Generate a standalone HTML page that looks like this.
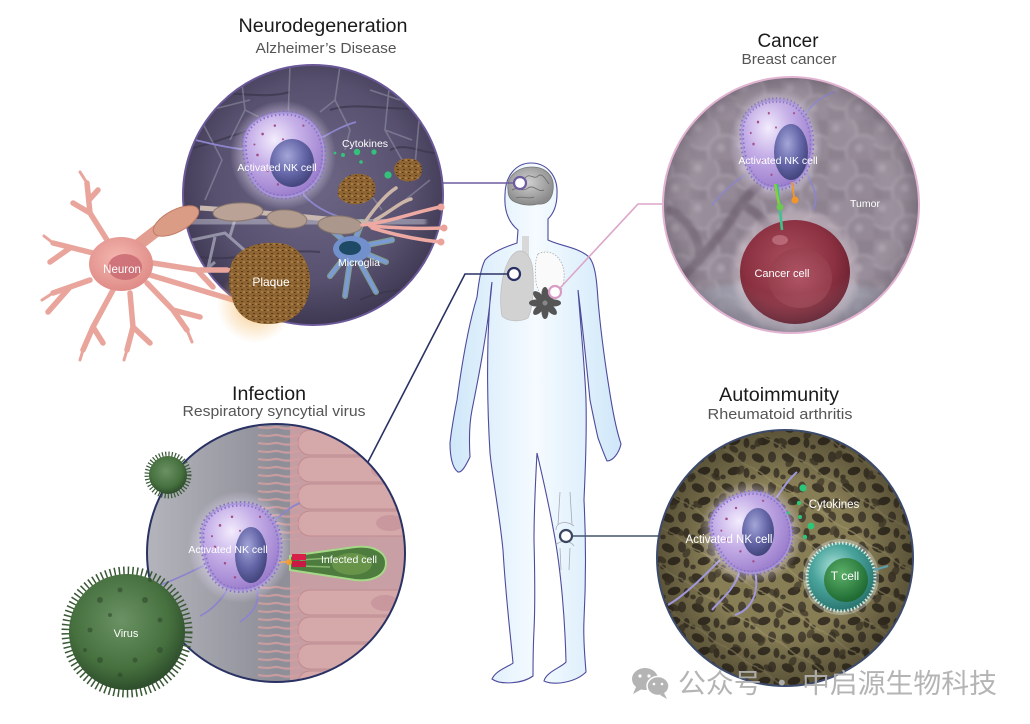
<!DOCTYPE html>
<html><head><meta charset="utf-8"><style>
html,body{margin:0;padding:0;background:#fff;width:1030px;height:724px;overflow:hidden}
svg{display:block}
text{font-family:"Liberation Sans","Noto Sans CJK SC",sans-serif}
</style></head><body>
<svg width="1030" height="724" viewBox="0 0 1030 724" xmlns="http://www.w3.org/2000/svg">
<defs>
<clipPath id="cN"><circle cx="313" cy="195" r="130"/></clipPath>
<clipPath id="cC"><circle cx="791" cy="205" r="128"/></clipPath>
<clipPath id="cI"><circle cx="276" cy="553" r="129"/></clipPath>
<clipPath id="cA"><circle cx="785" cy="558" r="128"/></clipPath>
<filter id="blur1" x="-10%" y="-10%" width="120%" height="120%"><feGaussianBlur stdDeviation="1.6"/></filter>
<filter id="blur2" x="-20%" y="-20%" width="140%" height="140%"><feGaussianBlur stdDeviation="3"/></filter>
<radialGradient id="gN" cx="50%" cy="45%" r="55%"><stop offset="0" stop-color="#6e6886"/><stop offset="0.7" stop-color="#57506e"/><stop offset="1" stop-color="#3e3852"/></radialGradient>
<radialGradient id="gVig" cx="50%" cy="50%" r="50%"><stop offset="0.6" stop-color="#000" stop-opacity="0"/><stop offset="1" stop-color="#1a140c" stop-opacity="0.4"/></radialGradient>
<radialGradient id="gVigC" cx="50%" cy="50%" r="50%"><stop offset="0.7" stop-color="#fff" stop-opacity="0"/><stop offset="1" stop-color="#3a2e3c" stop-opacity="0.25"/></radialGradient>
<linearGradient id="gI" x1="0" y1="0" x2="1" y2="0"><stop offset="0" stop-color="#b4b4bc"/><stop offset="0.5" stop-color="#8e8e98"/><stop offset="1" stop-color="#9a9aa2"/></linearGradient>
<radialGradient id="nkglow" cx="50%" cy="50%" r="50%"><stop offset="0.65" stop-color="#efe4ff" stop-opacity="0.6"/><stop offset="1" stop-color="#efe4ff" stop-opacity="0"/></radialGradient>
<radialGradient id="nkfill" cx="38%" cy="32%" r="70%"><stop offset="0" stop-color="#f3ecfd"/><stop offset="0.45" stop-color="#c6b0e8"/><stop offset="1" stop-color="#9a7ccc"/></radialGradient>
<radialGradient id="nuc" cx="40%" cy="35%" r="65%"><stop offset="0" stop-color="#a4a6d8"/><stop offset="0.6" stop-color="#6466a8"/><stop offset="1" stop-color="#44467e"/></radialGradient>
<radialGradient id="gCancer" cx="45%" cy="40%" r="60%"><stop offset="0" stop-color="#a84e5c"/><stop offset="0.7" stop-color="#8a3040"/><stop offset="1" stop-color="#6a2030"/></radialGradient>
<radialGradient id="gCancerIn" cx="50%" cy="50%" r="50%"><stop offset="0" stop-color="#b2586a"/><stop offset="1" stop-color="#98404e"/></radialGradient>
<radialGradient id="gVirus" cx="45%" cy="40%" r="60%"><stop offset="0" stop-color="#6a9264"/><stop offset="0.7" stop-color="#46703e"/><stop offset="1" stop-color="#2e4e2c"/></radialGradient>
<radialGradient id="gT" cx="40%" cy="35%" r="65%"><stop offset="0" stop-color="#a8e0d8"/><stop offset="0.5" stop-color="#4aa49c"/><stop offset="1" stop-color="#2a7670"/></radialGradient>
<radialGradient id="gTin" cx="40%" cy="35%" r="65%"><stop offset="0" stop-color="#5cb068"/><stop offset="1" stop-color="#1e6a32"/></radialGradient>
<radialGradient id="gSoma" cx="45%" cy="40%" r="60%"><stop offset="0" stop-color="#f4b8b0"/><stop offset="1" stop-color="#e08c88"/></radialGradient>
<radialGradient id="gGlow" cx="50%" cy="50%" r="50%"><stop offset="0" stop-color="#f4b860" stop-opacity="0.8"/><stop offset="1" stop-color="#f4b860" stop-opacity="0"/></radialGradient>
<radialGradient id="gBrain" cx="45%" cy="40%" r="60%"><stop offset="0" stop-color="#d0d0d0"/><stop offset="1" stop-color="#8a8a8a"/></radialGradient>
<linearGradient id="gBody" x1="0" y1="0" x2="1" y2="0"><stop offset="0" stop-color="#cfe7f9"/><stop offset="0.5" stop-color="#f5fbff"/><stop offset="1" stop-color="#cfe7f9"/></linearGradient>
<pattern id="mesh" patternUnits="userSpaceOnUse" width="30" height="30">
<rect width="30" height="30" fill="#887e56"/>
<ellipse cx="8" cy="8" rx="6.5" ry="4.2" transform="rotate(25 8 8)" fill="#3f3828"/>
<ellipse cx="22" cy="7" rx="4" ry="5.5" fill="#4a4232"/>
<ellipse cx="14" cy="21" rx="6.5" ry="4" transform="rotate(-15 14 21)" fill="#3a3325"/>
<ellipse cx="26.5" cy="23" rx="3" ry="5" fill="#463e2d"/>
<ellipse cx="3" cy="27" rx="2.8" ry="2.4" fill="#4a4232"/>
</pattern>
<pattern id="mesh2" patternUnits="userSpaceOnUse" width="37" height="33" patternTransform="rotate(33)">
<ellipse cx="9" cy="10" rx="5" ry="3" fill="#3d3627"/>
<ellipse cx="26" cy="24" rx="3.5" ry="5" fill="#433b2b"/>
<path d="M0,16 C10,12 20,20 37,15" stroke="#9c9268" stroke-width="1.5" fill="none"/>
</pattern>
<pattern id="bub" patternUnits="userSpaceOnUse" width="46" height="40">
<circle cx="12" cy="12" r="17" fill="#988d9a" stroke="#aaa0ad" stroke-width="2"/>
<circle cx="35" cy="32" r="17" fill="#948996" stroke="#a89eaa" stroke-width="2"/>
<circle cx="8" cy="8" r="4" fill="#b8b0bc" opacity="0.5"/>
<circle cx="31" cy="28" r="4" fill="#b8b0bc" opacity="0.5"/>
</pattern>
<pattern id="spk" patternUnits="userSpaceOnUse" width="6" height="6">
<rect width="6" height="6" fill="#8e6532"/>
<rect x="1" y="1" width="2" height="1" fill="#5a3c18"/>
<rect x="3.5" y="3" width="1" height="2" fill="#c39558"/>
<rect x="0" y="4" width="1.5" height="1" fill="#4e3414"/>
</pattern>
<pattern id="cil" patternUnits="userSpaceOnUse" width="44" height="8">
<path d="M44,4 C34,1 26,7 16,3.5 C10,1.5 5,5.5 0,3.5" fill="none" stroke="#d29ea0" stroke-width="2.2"/>
</pattern>
<g id="nkbody">
<circle r="52" fill="url(#nkglow)"/>
<path d="M-38,-8 C-40,-30 -18,-41 4,-40 C28,-39 41,-20 40,2 C39,26 20,41 -2,40 C-26,39 -37,18 -38,-8Z" fill="url(#nkfill)" stroke="#8a72c4" stroke-width="5" stroke-dasharray="1.5 2.5"/>
<path d="M-38,-8 C-40,-30 -18,-41 4,-40 C28,-39 41,-20 40,2 C39,26 20,41 -2,40 C-26,39 -37,18 -38,-8Z" fill="none" stroke="#a898dc" stroke-width="1.5"/>
<g fill="#a2508a"><circle cx="-20" cy="-20" r="1.3"/><circle cx="-8" cy="-28" r="1.2"/><circle cx="-25" cy="0" r="1.3"/><circle cx="-15" cy="15" r="1.2"/><circle cx="-5" cy="28" r="1.2"/><circle cx="-28" cy="-10" r="1"/><circle cx="0" cy="-15" r="1"/><circle cx="20" cy="-28" r="1.1"/></g>
</g>
</defs>

<!-- ============ BODY ============ -->
<path d="M531,163 C547,163 558,176 557,194 C557,206 553,214 548,219 L548,240 C560,246 578,247 589,257 C596,265 597,285 598,300 C601,335 606,370 611,400 C614,418 617,432 621,444 C619,453 613,461 607,461 C603,452 601,446 598,438 C595,425 592,410 590,400 C587,370 583,330 578,290 C581,330 585,370 586,400 C587,440 585,475 584,500 C586,540 586,580 584,620 C583,640 585,658 586,672 C576,682 555,686 544,681 C546,672 562,667 566,662 C565,620 561,570 554,533 C548,500 541,470 537,453 C535,490 534,520 534,540 C535,580 535,610 534,630 C533,650 533,660 533,676 C522,684 500,685 492,679 C496,670 510,666 513,663 C510,630 506,600 503,550 C499,510 492,475 490,453 C488,420 487,380 488,340 C489,310 490,295 492,282 C488,330 478,380 472,410 C469,425 469,440 470,457 C466,465 462,473 458,472 C452,468 450,455 450,443 C452,425 455,410 457,400 C461,370 467,330 477,297 C479,280 481,268 485,260 C492,252 505,247 517,243 L518,230 C508,222 504,210 505,195 C505,176 516,163 531,163Z" fill="url(#gBody)" stroke="#4d4b9c" stroke-width="1.1"/>
<!-- brain -->
<path d="M508,190 C506,176 518,167 532,167 C546,167 555,176 553,190 C552,200 546,205 538,204 C530,206 522,205 515,202 C510,200 508,196 508,190Z" fill="url(#gBrain)" stroke="#777" stroke-width="0.8"/>
<path d="M514,180 C518,176 522,182 526,177 C530,173 534,180 538,176 C542,172 546,180 549,184 M512,190 C518,186 522,193 528,188 C534,184 538,193 544,190 M516,198 C522,195 528,200 534,197" fill="none" stroke="#6a6a6a" stroke-width="0.8"/>
<!-- trachea / lungs -->
<rect x="522" y="236" width="7" height="26" fill="#d8d8d8"/>
<path d="M516,252 C524,248 532,256 533,272 C534,292 533,308 528,318 C520,322 508,322 502,316 C499,300 501,276 508,262 C511,256 513,254 516,252Z" fill="#d2d2d2" stroke="#c0c0c0" stroke-width="0.8"/>
<path d="M538,254 C550,248 562,256 564,272 C565,285 560,296 552,300 C544,300 538,294 536,282 C535,270 535,260 538,254Z" fill="#fafafa" stroke="#aaa" stroke-width="0.8" stroke-dasharray="1.5 1.5"/>
<!-- flower -->
<g transform="translate(545,303)" fill="#555">
<ellipse cx="0" cy="-9" rx="3.5" ry="7"/><ellipse cx="0" cy="-9" rx="3.5" ry="7" transform="rotate(45)"/><ellipse cx="0" cy="-9" rx="3.5" ry="7" transform="rotate(90)"/><ellipse cx="0" cy="-9" rx="3.5" ry="7" transform="rotate(135)"/><ellipse cx="0" cy="-9" rx="3.5" ry="7" transform="rotate(180)"/><ellipse cx="0" cy="-9" rx="3.5" ry="7" transform="rotate(225)"/><ellipse cx="0" cy="-9" rx="3.5" ry="7" transform="rotate(270)"/><ellipse cx="0" cy="-9" rx="3.5" ry="7" transform="rotate(315)"/>
<circle r="2.5" fill="#888"/>
</g>
<!-- knee bones -->
<path d="M560,492 L558,525 M570,492 L572,525 M556,530 C556,522 566,520 574,526 M556,545 C560,540 570,540 574,546 M560,548 L561,570 M570,548 L569,570" fill="none" stroke="#a8a8b8" stroke-width="0.8"/>

<!-- ============ CONNECTORS ============ -->
<line x1="442" y1="183" x2="514" y2="183" stroke="#6c5c9e" stroke-width="1.6"/>
<circle cx="520" cy="183" r="6" fill="#fff" stroke="#6c5c9e" stroke-width="2.2"/>
<polyline points="368,462 465,274 508,274" fill="none" stroke="#2a3264" stroke-width="1.6"/>
<circle cx="514" cy="274" r="6" fill="#fff" stroke="#2a3264" stroke-width="2.2"/>
<polyline points="663,204 638,204 560,288" fill="none" stroke="#dba6c8" stroke-width="1.6"/>
<circle cx="555" cy="292" r="6" fill="#fff" stroke="#d89cc4" stroke-width="2.2"/>
<line x1="573" y1="536" x2="658" y2="536" stroke="#44546c" stroke-width="1.6"/>
<circle cx="566" cy="536" r="6" fill="#fff" stroke="#3a4660" stroke-width="2.2"/>

<!-- ============ NEURODEGENERATION ============ -->
<g clip-path="url(#cN)">
<circle cx="313" cy="195" r="130" fill="url(#gN)"/>
<path d="M185,150 C230,140 260,120 300,125 M330,110 C360,100 400,115 440,105 M190,255 C230,265 270,248 320,252 M360,300 C390,285 420,295 445,275 M200,95 C240,90 260,100 290,92 M390,150 C410,140 430,160 445,150" fill="none" stroke="#3a344c" stroke-width="2" opacity="0.7"/>
<path d="M240,66 L245,110 L230,140 M245,110 L265,120 M290,66 L288,120 L300,130 M340,66 L335,100 L350,130 L345,150 M335,100 L320,112 M390,78 L385,130 L402,160 M385,130 L412,140 M420,110 L415,165 M200,118 L222,160 L205,200 M360,180 L382,210 M430,180 L405,200 M210,110 L250,100 M370,90 L400,100" fill="none" stroke="#9896aa" stroke-width="1.6" opacity="0.55"/>
<path d="M192,240 L225,233 L250,255 M215,237 L208,268 M230,236 L238,210 M200,275 L215,262" fill="none" stroke="#d6dae8" stroke-width="3" opacity="0.5"/>
<path d="M150,224 C220,216 300,222 420,222" fill="none" stroke="#e4e4ee" stroke-width="13" opacity="0.4" stroke-linecap="round" filter="url(#blur1)"/>
<!-- microglia -->
<path d="M352,248 L325,224 M352,248 L330,276 M352,248 L345,296 M352,248 L376,292 M352,248 L386,262 M352,248 L392,240 M352,248 L362,222" stroke="#9ad2a6" stroke-width="6" stroke-linecap="round" opacity="0.6"/>
<path d="M352,248 L325,224 M352,248 L330,276 M352,248 L345,296 M352,248 L376,292 M352,248 L386,262 M352,248 L392,240 M352,248 L362,222" stroke="#7c9ad8" stroke-width="3.5" stroke-linecap="round"/>
<ellipse cx="352" cy="249" rx="19" ry="13" fill="#7290cc"/>
<ellipse cx="350" cy="248" rx="11" ry="7" fill="#1e4a66"/>
<!-- NK -->
<path d="M250,150 C225,148 205,142 195,140 M318,140 C335,130 345,125 356,122 M300,190 C310,205 330,215 345,218" fill="none" stroke="#8c84cc" stroke-width="1.8"/>
<use href="#nkbody" transform="translate(283,155) scale(1.02,1.05)"/>
<ellipse cx="292" cy="163" rx="22" ry="24" fill="url(#nuc)"/>
<!-- brown blobs -->
<path d="M338,196 C336,182 348,172 362,174 C374,176 378,186 374,196 C366,206 346,208 338,196Z" fill="url(#spk)"/>
<path d="M394,170 C394,160 406,156 416,160 C424,164 424,176 416,180 C406,184 396,180 394,170Z" fill="url(#spk)"/>
<!-- cytokines -->
<g fill="#34c27a"><circle cx="357" cy="152" r="3.2"/><circle cx="343" cy="155" r="2"/><circle cx="374" cy="152" r="2.6"/><circle cx="361" cy="162" r="1.8"/><circle cx="388" cy="175" r="3.6"/><circle cx="335" cy="153" r="1.4"/></g>
</g>
<circle cx="313" cy="195" r="130" fill="none" stroke="#6a5898" stroke-width="2"/>
<!-- neuron -->
<g fill="none" stroke="#e9a59c" stroke-linecap="round">
<path d="M107,240 L90,213 L87,183 M90,213 L73,203 M89,200 L98,190 M93,253 L53,243 M70,248 L50,262 M90,280 L53,293 M70,287 L48,312 M113,290 L93,327 L83,350 M93,327 L103,343 M130,293 L133,327 L127,350 M133,327 L150,343 M147,283 L173,310 L187,330 M173,310 L200,317 M153,263 L197,270 L227,270 M197,270 L213,287 M150,275 L200,290 L240,302" stroke-width="5.5"/>
<path d="M87,183 L80,172 M53,243 L44,236 M53,293 L42,300 M83,350 L80,360 M127,350 L124,360 M187,330 L192,342 M227,270 L238,268" stroke-width="3"/>
</g>
<path d="M138,245 L160,228" stroke="#e29e90" stroke-width="12" stroke-linecap="round"/>
<ellipse cx="121" cy="264" rx="32" ry="27" fill="url(#gSoma)"/>
<ellipse cx="125" cy="267" rx="17" ry="13" fill="#c96a72" opacity="0.85"/>
<!-- axon -->
<path d="M200,208 C260,212 340,220 370,224" stroke="#c8b8b0" stroke-width="5" fill="none"/>
<ellipse cx="176" cy="221" rx="25" ry="11" transform="rotate(-28 176 221)" fill="#da9c84" stroke="#c07c66"/>
<ellipse cx="238" cy="212" rx="25" ry="9" transform="rotate(-3 238 212)" fill="#baa296" stroke="#8a786e"/>
<ellipse cx="287" cy="219" rx="20" ry="9" transform="rotate(5 287 219)" fill="#b29c90" stroke="#8a786e"/>
<ellipse cx="340" cy="225" rx="22" ry="9" transform="rotate(3 340 225)" fill="#ab978b" stroke="#8a786e"/>
<g fill="none" stroke-linecap="round">
<path d="M362,225 C390,222 415,212 440,207 M370,226 C400,228 420,229 443,228 M372,228 C395,235 420,240 440,242" stroke="#eeaaa2" stroke-width="3.5"/>
<path d="M365,222 C375,208 385,195 396,188 M375,220 C390,212 400,202 411,199" stroke="#cdb6a8" stroke-width="3.5"/>
</g>
<g fill="#eaa29a"><circle cx="441" cy="207" r="3.5"/><circle cx="444" cy="228" r="3.5"/><circle cx="441" cy="242" r="3.5"/></g>
<!-- plaque -->
<circle cx="255" cy="305" r="38" fill="url(#gGlow)"/>
<path d="M232,262 C240,246 262,240 285,244 C305,250 313,270 309,292 C305,314 290,324 268,324 C248,324 236,314 232,298 C228,285 228,272 232,262Z" fill="url(#spk)"/>
<text x="271" y="286" font-size="12" fill="#fff" text-anchor="middle">Plaque</text>
<text x="122" y="273" font-size="11.5" fill="#fff" text-anchor="middle">Neuron</text>
<text x="277" y="171" font-size="10.5" fill="#fff" text-anchor="middle">Activated NK  cell</text>
<text x="365" y="147" font-size="10.5" fill="#fff" text-anchor="middle">Cytokines</text>
<text x="359" y="266" font-size="10.5" fill="#fff" text-anchor="middle">Microglia</text>

<!-- ============ CANCER ============ -->
<g clip-path="url(#cC)">
<circle cx="791" cy="205" r="128" fill="#8d828f"/>
<rect x="655" y="70" width="275" height="275" fill="url(#bub)" filter="url(#blur1)"/>
<ellipse cx="790" cy="325" rx="140" ry="45" fill="#a8adbe" opacity="0.55" filter="url(#blur2)"/>
<path d="M660,300 C690,270 720,240 740,205 C760,180 780,170 800,150 M700,260 C700,240 690,220 670,210 M740,205 C760,210 770,230 775,240" fill="none" stroke="#6a5c6c" stroke-width="9" opacity="0.65" stroke-linecap="round" filter="url(#blur1)"/>
<path d="M745,175 C730,185 720,195 712,205 M800,120 C815,100 825,95 835,92 M805,170 C815,190 820,200 812,210" fill="none" stroke="#8c84cc" stroke-width="1.6"/>
<use href="#nkbody" transform="translate(776,144) scale(0.9,1.1)"/>
<ellipse cx="791" cy="152" rx="17" ry="28" fill="url(#nuc)"/>
<circle cx="795" cy="272" r="62" fill="#e8d8e0" opacity="0.35" filter="url(#blur2)"/>
<ellipse cx="795" cy="272" rx="55" ry="52" fill="url(#gCancer)"/>
<ellipse cx="800" cy="278" rx="32" ry="30" fill="url(#gCancerIn)" opacity="0.8"/>
<ellipse cx="780" cy="240" rx="8" ry="5" fill="#d890a0" opacity="0.5"/>
<path d="M777,184 L780,210 L782,230" stroke="#3ec28c" stroke-width="2.6" fill="none"/>
<path d="M775,184 L779,205" stroke="#8acc40" stroke-width="2.4"/>
<circle cx="780" cy="207" r="3.5" fill="#6cc850"/>
<path d="M792,182 L794,197" stroke="#f0962c" stroke-width="1.8"/>
<circle cx="795" cy="200" r="3.6" fill="#f0962c"/>
<circle cx="791" cy="205" r="128" fill="url(#gVigC)"/>
</g>
<circle cx="791" cy="205" r="128" fill="none" stroke="#e2b4d2" stroke-width="2"/>
<text x="778" y="164" font-size="10.5" fill="#fff" text-anchor="middle">Activated NK  cell</text>
<text x="865" y="207" font-size="10.5" fill="#fff" text-anchor="middle">Tumor</text>
<text x="782" y="277" font-size="11" fill="#fff" text-anchor="middle">Cancer  cell</text>

<!-- ============ INFECTION ============ -->
<g clip-path="url(#cI)">
<circle cx="276" cy="553" r="129" fill="url(#gI)"/>
<rect x="290" y="420" width="125" height="270" fill="#cfa0a4" opacity="0.85"/>
<g fill="#d6a9aa" stroke="#c08a8e" stroke-width="1" opacity="0.9">
<rect x="298" y="430" width="125" height="25" rx="12"/>
<rect x="298" y="457" width="125" height="25" rx="12"/>
<rect x="298" y="484" width="125" height="25" rx="12"/>
<rect x="298" y="511" width="125" height="25" rx="12"/>
<rect x="298" y="590" width="125" height="25" rx="12"/>
<rect x="298" y="617" width="125" height="25" rx="12"/>
<rect x="298" y="644" width="125" height="25" rx="12"/>
<rect x="298" y="671" width="125" height="25" rx="12"/>
</g>
<g fill="#c4919a" opacity="0.7"><ellipse cx="385" cy="470" rx="14" ry="8"/><ellipse cx="390" cy="523" rx="14" ry="8"/><ellipse cx="385" cy="603" rx="14" ry="8"/><ellipse cx="388" cy="657" rx="14" ry="8"/></g>
<rect x="258" y="420" width="42" height="120" fill="url(#cil)" opacity="0.85"/>
<rect x="258" y="585" width="42" height="110" fill="url(#cil)" opacity="0.85"/>
<!-- infected cell -->
<path d="M290,556 L355,547 C375,545 386,553 386,563 C386,574 375,582 355,580 L290,570Z" fill="#4e7c3e" stroke="#a6d888" stroke-width="2"/>
<ellipse cx="352" cy="564" rx="20" ry="11" fill="#6e9a4c" opacity="0.8"/>
<path d="M300,560 L330,558 M300,566 L330,567" stroke="#8ab870" stroke-width="1.5"/>
<rect x="292" y="554" width="7" height="6" fill="#d8204a"/><rect x="299" y="554" width="7" height="6" fill="#d8204a"/><rect x="292" y="561" width="7" height="6" fill="#c81844"/><rect x="299" y="561" width="7" height="6" fill="#c81844"/>
<path d="M272,562 L288,562" stroke="#f09a2c" stroke-width="1.8"/>
<circle cx="289" cy="562" r="3" fill="#f09a2c"/>
<!-- NK -->
<path d="M205,565 C185,575 170,582 152,588 M230,585 C222,600 212,610 200,616 M255,585 C262,600 255,612 240,622 M275,520 C285,512 292,506 300,503" fill="none" stroke="#8c84cc" stroke-width="1.8"/>
<use href="#nkbody" transform="translate(240,547) scale(1,1.08)"/>
<ellipse cx="251" cy="555" rx="16" ry="28" fill="url(#nuc)"/>
</g>
<circle cx="276" cy="553" r="129" fill="none" stroke="#2a3264" stroke-width="2"/>
<!-- viruses -->
<circle cx="168" cy="475" r="21" fill="none" stroke="#3a5a38" stroke-width="5" stroke-dasharray="1.2 2"/>
<circle cx="168" cy="475" r="19" fill="url(#gVirus)"/>
<circle cx="127" cy="632" r="61" fill="none" stroke="#3a5a36" stroke-width="9" stroke-dasharray="1.5 3"/>
<circle cx="127" cy="632" r="58" fill="url(#gVirus)"/>
<g fill="#2e4a2c" opacity="0.6"><circle cx="100" cy="600" r="3"/><circle cx="120" cy="590" r="2.5"/><circle cx="145" cy="600" r="3"/><circle cx="90" cy="630" r="2.5"/><circle cx="110" cy="615" r="2"/><circle cx="160" cy="620" r="2.5"/><circle cx="100" cy="660" r="3"/><circle cx="135" cy="660" r="2.5"/><circle cx="160" cy="650" r="3"/><circle cx="120" cy="675" r="2.5"/><circle cx="85" cy="650" r="2"/><circle cx="150" cy="580" r="2"/></g>
<text x="228" y="553" font-size="10.5" fill="#fff" text-anchor="middle">Activated NK  cell</text>
<text x="349" y="563" font-size="10.5" fill="#fff" text-anchor="middle">Infected  cell</text>
<text x="126" y="637" font-size="11" fill="#fff" text-anchor="middle">Virus</text>

<!-- ============ AUTOIMMUNITY ============ -->
<g clip-path="url(#cA)">
<rect x="655" y="428" width="262" height="262" fill="url(#mesh)"/>
<rect x="655" y="428" width="262" height="262" fill="url(#mesh2)" opacity="0.75"/>
<circle cx="785" cy="558" r="128" fill="url(#gVig)"/>
<path d="M720,560 C700,580 685,595 668,605 M740,570 C735,590 720,600 712,610 M775,500 C785,485 790,478 797,472 M755,570 C760,595 750,610 735,615" fill="none" stroke="#a098dc" stroke-width="2"/>
<use href="#nkbody" transform="translate(751,533) rotate(-15)"/>
<ellipse cx="758" cy="532" rx="16" ry="24" fill="url(#nuc)"/>
<g fill="#2cc87a"><circle cx="803" cy="488" r="3.6"/><circle cx="799" cy="503" r="2.2"/><circle cx="800" cy="517" r="2"/><circle cx="811" cy="526" r="3.4"/><circle cx="805" cy="537" r="2.2"/><circle cx="788" cy="513" r="1.5"/></g>
<circle cx="841" cy="577" r="38" fill="#e4f2ec" opacity="0.35"/>
<circle cx="841" cy="577" r="34" fill="url(#gT)" stroke="#d4ece4" stroke-width="3" stroke-dasharray="1.5 2"/>
<circle cx="846" cy="580" r="22" fill="url(#gTin)"/>
<path d="M874,570 L888,566" stroke="#5aa0b0" stroke-width="2"/>
</g>
<circle cx="785" cy="558" r="128" fill="none" stroke="#3c4a6c" stroke-width="2"/>
<text x="729" y="543" font-size="11.5" fill="#fff" text-anchor="middle">Activated NK  cell</text>
<text x="834" y="508" font-size="11.5" fill="#fff" text-anchor="middle">Cytokines</text>
<text x="845" y="580" font-size="12" fill="#fff" text-anchor="middle">T cell</text>

<!-- ============ TITLES ============ -->
<text x="323" y="32" font-size="19" fill="#1a1a1a" text-anchor="middle" textLength="169" lengthAdjust="spacingAndGlyphs">Neurodegeneration</text>
<text x="326" y="53" font-size="14.5" fill="#555" text-anchor="middle" textLength="141" lengthAdjust="spacingAndGlyphs">Alzheimer’s Disease</text>
<text x="788" y="47" font-size="19" fill="#1a1a1a" text-anchor="middle" textLength="61" lengthAdjust="spacingAndGlyphs">Cancer</text>
<text x="789" y="64" font-size="14.5" fill="#555" text-anchor="middle" textLength="95" lengthAdjust="spacingAndGlyphs">Breast cancer</text>
<text x="269" y="400" font-size="19" fill="#1a1a1a" text-anchor="middle" textLength="74" lengthAdjust="spacingAndGlyphs">Infection</text>
<text x="274" y="416" font-size="14.5" fill="#555" text-anchor="middle" textLength="183" lengthAdjust="spacingAndGlyphs">Respiratory syncytial virus</text>
<text x="779" y="401" font-size="19" fill="#1a1a1a" text-anchor="middle" textLength="120" lengthAdjust="spacingAndGlyphs">Autoimmunity</text>
<text x="780" y="419" font-size="14.5" fill="#555" text-anchor="middle" textLength="145" lengthAdjust="spacingAndGlyphs">Rheumatoid arthritis</text>

<!-- ============ WATERMARK ============ -->
<g fill="#b4b4b4">
<ellipse cx="645" cy="679" rx="13" ry="11"/>
<path d="M636,687 L633,694 L642,689Z"/>
<ellipse cx="658" cy="686" rx="11" ry="9.5" stroke="#fff" stroke-width="1.5"/>
<path d="M664,693 L667,699 L660,695Z"/>
</g>
<g fill="#fff"><circle cx="640" cy="676" r="1.6"/><circle cx="649" cy="676" r="1.6"/><circle cx="654" cy="684" r="1.3"/><circle cx="662" cy="684" r="1.3"/></g>
<text x="678" y="693" font-size="27" fill="#b0b0b0" opacity="0.95" textLength="319" lengthAdjust="spacingAndGlyphs" style='font-family:"Noto Sans CJK SC","WenQuanYi Zen Hei",sans-serif'>公众号 · 中启源生物科技</text>
</svg>
</body></html>
